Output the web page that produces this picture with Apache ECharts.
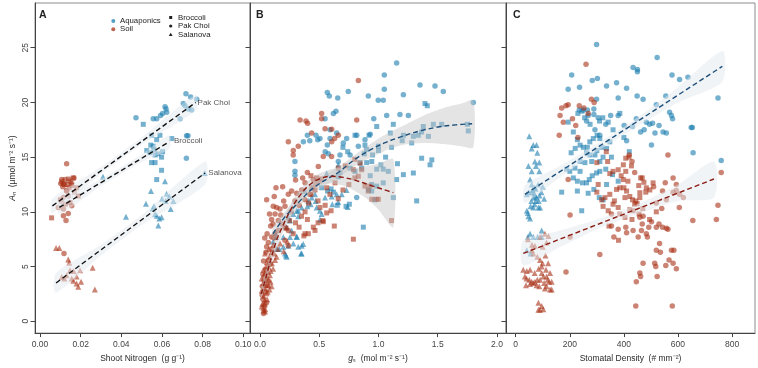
<!DOCTYPE html>
<html><head><meta charset="utf-8">
<script src="https://cdn.jsdelivr.net/npm/echarts@6/dist/echarts.min.js"></script>
<style>html,body{margin:0;padding:0;background:#fff}#c{width:758px;height:368px}</style>
</head><body><div id="c"></div>
<script>
// ---------- tick labels ----------
const ticksA = [0, 0.02, 0.04, 0.06, 0.08, 0.10];
const ticksB = [0, 0.5, 1.0, 1.5, 2.0];
const ticksC = [0, 200, 400, 600, 800];
const ticksY = [0, 5, 10, 15, 20, 25];
const groups = ['Aquaponics', 'Soil'];
const crops = ['Broccoli', 'Pak Choi', 'Salanova'];

// ---------- Panel A: Shoot nitrogen vs An ----------
const A_aqua_pak = [[0.0472,18.6],[0.0718,20.8],[0.0741,20.5],[0.0771,20.3],[0.0705,19.9],[0.0713,19.7],[0.0730,19.4],[0.0746,19.3],[0.0689,18.5],[0.0615,19.6],[0.0623,19.1],[0.0603,19.0],[0.0593,18.8],[0.0574,18.5],[0.0557,18.5],[0.0721,16.95],[0.0728,16.95],[0.0720,14.9],[0.0620,19.4]];
const A_aqua_bro = [[0.0508,18.0],[0.0549,17.0],[0.0590,17.0],[0.0574,16.6],[0.0648,16.7],[0.0525,15.6],[0.0545,16.1],[0.0557,16.0],[0.0566,15.2],[0.0549,14.5],[0.0566,14.5],[0.0598,15.0],[0.0603,15.5],[0.0598,13.8],[0.0574,12.95],[0.0560,15.7],[0.0580,15.3],[0.0540,15.4]];
const A_aqua_sal = [[0.0546,11.9],[0.0615,12.8],[0.0521,10.75],[0.0423,9.55],[0.0561,10.5],[0.0623,11.65],[0.0636,11.4],[0.0656,11.0],[0.0643,10.25],[0.0574,9.65],[0.0587,9.4],[0.0598,9.5],[0.0582,8.75],[0.0554,10.3],[0.0566,9.8],[0.0618,11.0],[0.0310,13.2],[0.0810,13.55],[0.0600,11.2]];
const A_soil_pak = [[0.0131,14.4],[0.0107,12.95],[0.0167,13.1],[0.0102,12.6],[0.0112,12.3],[0.0131,11.9],[0.0156,12.6],[0.0115,12.55],[0.0148,12.8],[0.0123,12.95],[0.0131,11.95],[0.0115,11.3],[0.0139,11.45],[0.0107,10.9],[0.0156,10.55],[0.0115,10.25],[0.0139,9.85],[0.0115,9.65],[0.0128,9.2],[0.0090,10.4],[0.0118,6.2]];
const A_soil_bro = [[0.0134,12.5],[0.0164,13.1],[0.0108,12.75],[0.0144,12.2],[0.0156,12.4],[0.0180,12.2],[0.0188,11.45],[0.0148,10.85],[0.0125,10.7],[0.0057,9.45],[0.0100,11.1],[0.0170,11.8],[0.0120,12.5],[0.0140,13.0]];
const A_soil_sal = [[0.0079,6.7],[0.0095,6.7],[0.0139,5.65],[0.0144,5.35],[0.0197,4.65],[0.0259,4.9],[0.0270,2.9],[0.0107,4.05],[0.0131,4.2],[0.0156,3.9],[0.0164,3.7],[0.0180,3.45],[0.0188,3.15],[0.0202,3.6],[0.0180,4.1],[0.0148,4.65],[0.0165,4.6],[0.0120,3.9]];
const fitA_pak = [[0.0061,10.54],[0.0766,20.0]];
const fitA_bro = [[0.0095,10.4],[0.0636,16.4]];
const fitA_sal = [[0.0079,3.5],[0.0812,13.55]];
const bandA_pak = [[0.0061,9.9,11.2],[0.03,13.45,14.1],[0.05,16.15,16.8],[0.0766,19.3,20.7]];
const bandA_bro = [[0.0095,9.8,11.0],[0.03,12.35,13.0],[0.05,14.55,15.25],[0.0636,15.8,17.0]];
const bandA_sal = [[0.0079,2.6,4.4],[0.03,6.0,7.0],[0.05,8.8,9.7],[0.0812,12.5,14.6]];
const labelsA = [[0.0775,20.0,'Pak Choi'],[0.0659,16.5,'Broccoli'],[0.0828,13.6,'Salanova']];

// ---------- Panel B: gs vs An ----------
const B_aqua_pak = [[1.153,23.6],[0.568,20.9],[0.585,20.6],[0.656,20.4],[0.745,21.0],[0.914,20.6],[0.998,20.2],[1.04,20.2],[1.049,21.2],[1.049,22.5],[1.21,20.7],[1.35,21.6],[1.477,21.5],[1.547,21.0],[1.8,20.0],[0.641,19.2],[0.619,19.0],[0.549,18.5],[1.069,18.8],[1.181,18.9],[1.252,18.8],[0.591,17.5],[0.506,16.7],[0.366,16.4],[0.473,17.0],[0.487,16.6],[0.591,16.7],[0.647,17.2],[0.295,14.6],[0.295,13.7],[0.295,13.35],[0.703,16.3],[0.731,16.7],[0.816,17.0],[0.886,16.6],[0.76,15.2],[0.83,16.0],[0.576,15.3],[0.568,16.1],[0.675,15.2],[0.661,14.6],[0.816,11.3],[0.42,16.5],[0.40,17.0],[0.55,15.5],[0.96,18.5],[0.93,17.1]];
const B_aqua_bro = [[1.392,19.9],[1.412,19.7],[0.802,17.0],[0.985,17.8],[1.125,18.0],[1.21,17.0],[1.294,16.9],[1.336,17.0],[1.364,17.3],[1.378,17.8],[1.463,18.0],[1.533,18.0],[1.758,17.4],[1.421,16.9],[0.886,16.1],[0.9,15.7],[0.943,14.6],[0.985,13.9],[1.04,13.9],[1.083,13.7],[0.844,14.5],[0.858,14.0],[0.9,14.5],[0.76,14.0],[0.802,13.7],[0.943,12.5],[0.985,12.35],[0.943,11.9],[0.97,11.1],[0.914,12.0],[1.04,12.65],[1.125,11.3],[1.153,12.95],[1.21,13.4],[1.294,13.55],[1.364,14.9],[1.435,14.3],[1.45,14.75],[1.322,11.0],[0.872,8.6],[0.675,13.6],[0.661,13.2],[0.726,10.5],[0.754,10.7],[0.652,10.6],[0.62,11.8],[0.57,11.9],[0.52,12.2],[0.60,12.1],[0.70,15.9],[0.74,15.5],[0.88,15.3],[0.95,15.2],[1.0,15.6],[1.06,15.0],[0.93,13.3],[1.11,15.9],[1.2,16.5],[1.28,16.3],[1.1,17.2],[0.92,17.0],[1.0,16.0],[1.02,14.3],[1.16,14.4],[1.75,18.0]];
const B_aqua_sal = [[0.135,7.7],[0.163,6.6],[0.14,6.6],[0.219,6.0],[0.239,6.9],[0.281,7.1],[0.31,7.7],[0.346,6.2],[0.352,6.9],[0.197,7.7],[0.225,8.6],[0.253,9.2],[0.281,9.8],[0.323,10.1],[0.40,10.5],[0.428,10.7],[0.436,11.3],[0.464,11.6],[0.47,11.0],[0.506,10.1],[0.52,9.8],[0.563,13.5],[0.661,14.3],[0.605,11.4],[0.647,11.6],[0.69,11.6],[0.73,12.0],[0.549,11.3],[0.61,10.7],[0.478,10.4],[0.506,9.3],[0.408,11.0],[0.436,12.2],[0.38,11.9],[0.352,10.4],[0.31,10.1],[0.24,9.5],[0.267,8.3],[0.31,7.75],[0.365,7.07],[0.323,6.8],[0.352,6.2],[0.225,5.9],[0.211,6.2],[0.197,6.8],[0.253,7.7],[0.323,9.6],[0.74,10.45],[0.66,10.9],[0.127,8.1],[0.11,7.3]];
const B_soil_pak = [[0.83,22.0],[0.338,18.4],[0.388,18.3],[0.402,18.1],[0.52,19.0],[0.52,18.5],[0.549,17.6],[0.605,17.55],[0.661,17.0],[0.816,18.4],[0.239,16.4],[0.281,15.6],[0.323,16.0],[0.436,17.2],[0.605,16.4],[0.63,16.7],[0.28,15.2],[0.492,14.15],[0.534,15.05],[0.604,15.05],[0.135,12.2],[0.191,12.3],[0.056,11.1],[0.112,10.5],[0.38,12.65],[0.45,12.95],[0.422,11.6],[0.352,12.0],[0.31,11.7],[0.267,11.9],[0.239,11.6],[0.295,11.0],[0.211,10.5],[0.169,10.25],[0.14,10.4],[0.127,9.8],[0.098,9.3],[0.155,9.2],[0.183,8.9],[0.21,8.6],[0.239,8.3],[0.155,8.3],[0.127,8.0],[0.098,7.7],[0.07,7.2],[0.056,6.8],[0.21,7.4],[0.239,6.9],[0.08,9.8],[0.09,8.7],[0.11,8.9],[0.06,8.0],[0.04,7.6],[0.07,5.6],[0.05,6.3],[0.03,5.5],[0.02,3.2],[0.04,2.7],[0.025,2.0],[0.03,0.7],[0.04,1.4],[0.055,1.7],[0.06,3.3],[0.035,3.7],[0.085,5.2],[0.1,6.6],[0.12,7.6],[0.025,4.3],[0.018,2.4],[0.05,4.7],[0.30,12.9],[0.40,13.6],[0.36,13.1],[0.47,12.5],[0.20,11.0],[0.26,10.0],[0.33,10.6],[0.175,9.7],[0.12,11.4],[0.38,11.1],[0.44,12.2]];
const B_soil_bro = [[0.563,12.2],[0.59,11.6],[0.633,12.65],[0.788,13.85],[0.844,14.45],[0.8,13.1],[0.886,12.35],[0.943,11.15],[0.999,11.15],[1.11,9.2],[0.788,7.5],[0.627,8.7],[0.45,8.6],[0.408,8.0],[0.37,7.8],[0.49,9.0],[0.53,9.2],[0.563,9.9],[0.6,10.1],[0.506,10.4],[0.55,10.6],[0.49,11.0],[0.661,14.0],[0.72,14.2],[0.8,14.8],[0.478,13.1],[0.50,12.8],[0.52,13.0],[0.464,12.0],[0.43,11.6],[0.41,10.8],[0.38,10.0],[0.464,8.3],[0.534,9.1],[0.38,8.0],[0.3,9.0],[0.28,8.0],[0.33,8.6],[0.35,9.6],[0.858,13.85],[0.83,13.25],[0.928,12.35],[0.914,11.9],[0.985,11.15],[0.70,12.0],[0.75,12.5],[0.66,11.2],[0.43,13.3],[0.25,9.2],[0.22,8.5],[0.40,9.3]];
const B_soil_sal = [[0.014,1.35],[0.028,1.2],[0.042,0.9],[0.035,1.6],[0.014,2.8],[0.056,2.55],[0.042,3.0],[0.07,3.3],[0.028,3.5],[0.098,3.2],[0.056,3.8],[0.014,3.9],[0.084,4.2],[0.042,4.4],[0.028,4.7],[0.07,5.0],[0.056,5.4],[0.127,5.6],[0.08,5.9],[0.042,6.2],[0.112,7.0],[0.17,7.1],[0.06,4.0],[0.09,4.6],[0.05,3.3],[0.065,2.7],[0.075,3.8],[0.1,5.3],[0.12,6.2],[0.15,6.6],[0.05,5.0],[0.035,4.2],[0.06,2.0],[0.03,2.3],[0.08,2.9],[0.04,1.9],[0.045,1.1],[0.09,3.6],[0.11,4.8],[0.065,4.5],[0.14,5.9],[0.2,6.4],[0.23,7.3],[0.095,6.3],[0.075,6.6],[0.02,1.6],[0.03,1.0]];
const fitB_aqua = [[0.11,8.0],[0.2,9.4],[0.32,10.8],[0.44,12.1],[0.55,12.9],[0.66,13.6],[0.8,14.8],[0.92,15.6],[1.05,16.3],[1.2,16.9],[1.35,17.4],[1.5,17.75],[1.65,17.95],[1.79,18.05]];
const fitB_soil = [[0.01,2.5],[0.05,4.0],[0.09,5.6],[0.14,7.4],[0.2,8.9],[0.27,10.4],[0.33,11.4],[0.4,12.3],[0.49,12.95],[0.6,13.25],[0.7,13.15],[0.8,12.9],[0.94,12.4],[1.04,12.05],[1.125,11.75]];
const bandB_aqua = [[0.11,7.4,8.6],[0.25,9.4,10.5],[0.4,11.3,12.3],[0.55,12.4,13.4],[0.7,13.4,14.4],[0.85,14.5,15.6],[1.0,15.3,16.7],[1.1,15.8,17.3],[1.25,16.2,18.1],[1.4,16.3,18.9],[1.55,16.2,19.5],[1.7,16.0,19.9],[1.8,15.9,20.2]];
const bandB_soil = [[0.01,2.0,3.0],[0.1,5.4,6.5],[0.2,8.3,9.5],[0.3,10.4,11.5],[0.4,11.7,12.8],[0.5,12.4,13.5],[0.6,12.6,13.9],[0.7,12.4,14.0],[0.8,11.9,14.0],[0.9,11.2,14.2],[1.0,10.2,14.4],[1.125,8.6,14.8]];

// ---------- Panel C: stomatal density vs An ----------
const C_aqua_pak = [[299,25.3],[523,24.1],[434,23.2],[450,23.0],[450,22.8],[578,22.5],[606,22.1],[637,22.3],[207,22.5],[283,22.0],[302,22.2],[236,21.4],[336,21.5],[373,21.8],[410,21.3],[194,21.2],[379,20.4],[449,20.6],[471,20.3],[555,20.6],[748,20.4],[760,14.7],[656,15.4],[649,17.7],[653,17.7],[569,19.1],[576,18.8],[530,17.9],[506,18.1],[515,17.2],[545,17.3],[557,17.2],[502,16.1],[462,17.3],[483,18.2],[446,18.5],[432,17.8],[401,17.9],[379,18.8],[351,18.8],[333,18.0],[305,18.6],[289,18.9],[268,18.8],[235,19.3],[250,19.3],[265,19.3],[289,19.4],[299,20.3],[262,18.3],[293,17.5],[311,17.0],[495,18.0],[520,19.8],[580,18.5],[410,16.5],[475,17.5]];
const C_aqua_bro = [[194,18.2],[213,17.3],[228,16.6],[238,16.1],[250,15.9],[265,15.9],[274,16.4],[287,16.7],[301,17.0],[311,16.7],[318,15.9],[336,15.8],[348,16.4],[262,15.4],[274,15.2],[293,15.2],[238,14.6],[256,14.5],[281,14.6],[219,14.0],[238,13.7],[200,13.7],[188,13.9],[213,13.1],[228,12.8],[247,12.65],[262,12.65],[272,12.95],[299,13.55],[311,13.7],[333,13.9],[358,13.4],[379,12.8],[354,15.0],[323,15.0],[268,11.7],[289,12.05],[309,11.3],[323,11.1],[244,10.1],[170,11.8],[228,11.9],[311,14.6],[336,12.5],[342,18.2],[230,19.0],[245,19.2],[255,18.6],[275,18.0],[310,18.3],[322,18.6],[300,15.6],[283,13.3],[205,15.4],[220,15.8],[400,16.8],[420,15.5],[360,17.5],[385,19.0]];
const C_aqua_sal = [[50,16.9],[65,16.1],[77,16.1],[59,15.8],[80,15.4],[71,14.6],[87,14.5],[75,14.2],[47,14.2],[59,13.7],[87,13.7],[53,12.95],[59,12.5],[83,12.5],[41,11.6],[48,11.8],[59,11.8],[65,11.3],[71,11.5],[77,11.3],[75,11.0],[84,10.4],[90,10.4],[65,10.4],[55,10.5],[41,10.1],[47,9.6],[53,9.4],[45,9.9],[70,10.7],[96,8.3],[53,8.0],[65,7.7],[81,7.7],[45,7.7],[96,7.7],[41,6.5],[55,6.2],[62,12.0],[70,12.2],[95,11.8],[105,11.2],[100,12.3],[85,11.0],[58,11.0],[68,11.7],[74,12.1],[88,11.5]];
const C_soil_pak = [[260,23.5],[164,18.8],[170,19.5],[186,19.7],[194,19.8],[176,18.2],[235,19.7],[252,19.5],[280,20.3],[290,20.0],[161,17.0],[194,12.95],[201,9.7],[201,7.7],[311,6.1],[186,4.5],[563,15.2],[582,13.1],[594,12.5],[760,13.6],[748,10.6],[742,9.3],[563,8.4],[520,6.5],[532,7.1],[535,6.3],[576,6.5],[585,6.5],[567,5.6],[582,5.3],[594,4.8],[555,5.1],[523,4.1],[459,4.4],[462,4.1],[446,3.6],[471,5.3],[514,5.3],[518,5.0],[444,1.4],[579,1.4],[487,7.7],[483,8.0],[492,8.6],[520,8.6],[543,8.6],[557,8.5],[530,8.9],[502,9.1],[471,9.6],[459,9.5],[468,8.9],[465,8.3],[453,7.7],[434,8.3],[407,8.6],[410,8.1],[363,7.7],[379,8.4],[354,9.8],[354,8.7],[553,12.65],[582,11.8],[594,11.95],[543,11.9],[606,11.6],[557,11.1],[222,17.9],[230,16.8],[268,19.0],[210,18.5],[420,15.2],[430,14.6],[440,13.6],[605,10.4],[620,11.3],[655,9.2],[540,10.3],[520,10.8],[510,12.3]];
const C_soil_bro = [[360,13.7],[348,13.5],[379,13.85],[407,14.9],[419,15.0],[398,14.3],[407,13.7],[398,12.95],[428,14.2],[462,13.1],[468,13.1],[474,12.7],[483,12.2],[496,12.0],[508,12.65],[373,12.05],[385,12.2],[400,12.2],[410,11.9],[404,11.3],[422,11.4],[432,11.1],[444,11.0],[459,11.3],[459,11.75],[318,11.1],[330,11.3],[348,11.6],[323,10.5],[342,10.1],[360,10.7],[379,10.4],[385,9.8],[404,9.5],[422,10.2],[434,10.1],[440,10.7],[449,10.75],[456,9.8],[481,11.8],[305,12.5],[300,14.5],[340,14.6],[335,15.5],[415,12.8],[390,13.3],[470,10.3],[495,9.3],[430,9.3],[345,8.7],[380,7.4],[300,11.8],[365,11.0],[455,12.4],[520,10.0]];
const C_soil_sal = [[28,4.7],[41,4.6],[53,4.7],[34,4.1],[50,3.8],[59,3.6],[71,3.6],[80,3.8],[90,3.8],[96,4.4],[102,4.1],[114,4.1],[124,3.6],[133,3.6],[114,3.2],[127,2.9],[133,2.9],[108,3.0],[87,3.2],[77,3.3],[38,3.3],[53,3.4],[65,3.5],[96,5.0],[112,4.7],[127,4.4],[80,5.9],[90,5.6],[99,5.3],[59,6.5],[65,6.2],[71,6.9],[90,7.7],[108,8.0],[121,7.8],[114,7.2],[84,1.7],[96,1.4],[102,1.1],[90,1.05],[84,1.05],[45,7.5],[60,7.0],[100,6.8],[110,6.0],[70,4.4],[85,4.8],[120,5.3],[40,3.9],[105,3.5],[118,3.8]];
const fitC_aqua = [[34,11.6],[764,23.3]];
const fitC_soil = [[28,6.2],[733,13.0]];
const bandC_aqua = [[34,10.8,12.4],[150,12.9,14.0],[300,15.5,16.2],[450,17.8,18.6],[600,20.0,21.4],[764,21.9,24.7]];
const bandC_soil = [[28,5.1,7.4],[150,6.6,8.2],[300,8.4,9.3],[450,9.8,10.7],[600,11.0,12.5],[733,11.3,14.6]];

// ---------- styling ----------
const FONT = '"Liberation Sans", Arial, Helvetica, sans-serif';
const BLUE = 'rgba(25,125,175,0.75)';
const RED = 'rgba(168,45,18,0.74)';
const BAND_LIGHT = 'rgba(228,234,240,0.5)';
const BAND_GRAY = 'rgba(195,195,195,0.45)';
const TXT = '#2a2a2a';

const grids = [
  {left: 35, top: 3, width: 215, height: 334},
  {left: 250, top: 3, width: 256, height: 334},
  {left: 506, top: 3, width: 249, height: 334}
].map(g => Object.assign(g, {show: true, borderColor: '#8c8c8c', borderWidth: 1, backgroundColor: 'transparent'}));

function xAx(gi, min, max, ticks, dec, name, rich) {
  return {type: 'value', gridIndex: gi, min: min, max: max, name: name, nameLocation: 'middle', nameGap: 19,
    nameTextStyle: {fontFamily: FONT, fontSize: 8.5, color: TXT, rich: rich || {}},
    axisLine: {show: true, onZero: false, lineStyle: {color: '#444', width: 1}},
    axisTick: {show: true, length: 4, customValues: ticks, lineStyle: {color: '#444', width: 1}},
    axisLabel: {show: true, customValues: ticks, formatter: v => Number(v).toFixed(dec), fontFamily: FONT, fontSize: 8.5, color: '#444', margin: 7},
    splitLine: {show: false}};
}
function yAx(gi, showLabels) {
  return {type: 'value', gridIndex: gi, min: -1.084, max: 29.09,
    name: showLabels ? '{i|A}ₙ  (μmol m⁻² s⁻¹)' : '', nameLocation: 'middle', nameGap: 18,
    nameTextStyle: {fontFamily: FONT, fontSize: 8.5, color: TXT, rich: {i: {fontStyle: 'italic', fontFamily: FONT, fontSize: 8.5, color: TXT}}},
    axisLine: {show: true, onZero: false, lineStyle: {color: '#444', width: 1}},
    axisTick: {show: true, length: 4.5, customValues: ticksY, lineStyle: {color: '#444', width: 1}},
    axisLabel: {show: showLabels, customValues: ticksY, rotate: 90, fontFamily: FONT, fontSize: 8.5, color: '#444', margin: 5},
    splitLine: {show: false}};
}

function scat(gi, data, symbol, color, size) {
  return {type: 'scatter', xAxisIndex: gi, yAxisIndex: gi, data: data, symbol: symbol, symbolSize: size,
    itemStyle: {color: color}, silent: true, z: 2, animation: false};
}
function band(gi, data, color) {
  return {type: 'custom', xAxisIndex: gi, yAxisIndex: gi, z: 3, silent: true, animation: false,
    data: [[data[0][0], data[0][1]]], clip: true,
    renderItem: function (params, api) {
      const up = data.map(d => api.coord([d[0], d[2]]));
      const lo = data.slice().reverse().map(d => api.coord([d[0], d[1]]));
      return {type: 'polygon', shape: {points: up.concat(lo), smooth: 0.25}, style: {fill: color}};
    }};
}
function fit(gi, data, color, smooth) {
  return {type: 'line', xAxisIndex: gi, yAxisIndex: gi, data: data, symbol: 'none', smooth: smooth ? 0.35 : false,
    lineStyle: {color: color, width: 1.4, type: [5, 3]}, z: 4, silent: true, animation: false};
}

const series = [
  // panel A
  scat(0, A_aqua_pak, 'circle', BLUE, 5.5), scat(0, A_aqua_bro, 'rect', BLUE, 5), scat(0, A_aqua_sal, 'triangle', BLUE, 6),
  scat(0, A_soil_pak, 'circle', RED, 5.5), scat(0, A_soil_bro, 'rect', RED, 5), scat(0, A_soil_sal, 'triangle', RED, 6),
  band(0, bandA_pak, BAND_LIGHT), band(0, bandA_bro, BAND_LIGHT), band(0, bandA_sal, BAND_LIGHT),
  fit(0, fitA_pak, '#111'), fit(0, fitA_bro, '#111'), fit(0, fitA_sal, '#111'),
  {type: 'scatter', xAxisIndex: 0, yAxisIndex: 0, data: labelsA, symbolSize: 0, silent: true, z: 5, animation: false,
   label: {show: true, position: 'right', distance: 0, formatter: p => p.data[2], fontFamily: FONT, fontSize: 8, color: TXT}},
  // panel B
  scat(1, B_aqua_pak, 'circle', BLUE, 5.5), scat(1, B_aqua_bro, 'rect', BLUE, 5), scat(1, B_aqua_sal, 'triangle', BLUE, 6),
  scat(1, B_soil_pak, 'circle', RED, 5.5), scat(1, B_soil_bro, 'rect', RED, 5), scat(1, B_soil_sal, 'triangle', RED, 6),
  band(1, bandB_aqua, BAND_GRAY), band(1, bandB_soil, BAND_GRAY),
  fit(1, fitB_aqua, '#1d4f7a', true), fit(1, fitB_soil, '#8a1c12', true),
  // panel C
  scat(2, C_aqua_pak, 'circle', BLUE, 5.5), scat(2, C_aqua_bro, 'rect', BLUE, 5), scat(2, C_aqua_sal, 'triangle', BLUE, 6),
  scat(2, C_soil_pak, 'circle', RED, 5.5), scat(2, C_soil_bro, 'rect', RED, 5), scat(2, C_soil_sal, 'triangle', RED, 6),
  band(2, bandC_aqua, BAND_LIGHT), band(2, bandC_soil, BAND_LIGHT),
  fit(2, fitC_aqua, '#1d4f7a'), fit(2, fitC_soil, '#8a1c12')
];

const txt = (x, y, t, size, bold) => ({type: 'text', x: x, y: y, z: 10, silent: true,
  style: {text: t, font: (bold ? 'bold ' : '') + size + 'px ' + FONT, fill: '#222', align: 'left', verticalAlign: 'middle'}});
const graphic = [
  txt(39, 15.5, 'A', 10.5, true), txt(256, 15.5, 'B', 10.5, true), txt(513, 15.5, 'C', 10.5, true),
  {type: 'circle', shape: {cx: 113.3, cy: 21, r: 2}, style: {fill: BLUE}, silent: true, z: 10},
  txt(120, 21, groups[0], 7.8),
  {type: 'circle', shape: {cx: 113.3, cy: 29.3, r: 2}, style: {fill: RED}, silent: true, z: 10},
  txt(120, 29.3, groups[1], 7.8),
  {type: 'rect', shape: {x: 169.2, y: 16, width: 3, height: 3}, style: {fill: '#222'}, silent: true, z: 10},
  txt(178, 17.5, crops[0], 7.8),
  {type: 'circle', shape: {cx: 170.7, cy: 26, r: 1.6}, style: {fill: '#222'}, silent: true, z: 10},
  txt(178, 26, crops[1], 7.8),
  {type: 'polygon', shape: {points: [[170.7, 32.8], [168.8, 36], [172.6, 36]]}, style: {fill: '#222'}, silent: true, z: 10},
  txt(178, 34.5, crops[2], 7.8)
];

const chart = echarts.init(document.getElementById('c'), null, {renderer: 'canvas'});
chart.setOption({
  animation: false,
  backgroundColor: '#fff',
  grid: grids,
  xAxis: [
    xAx(0, -0.00246, 0.1033, ticksA, 2, 'Shoot Nitrogen  (g g⁻¹)'),
    xAx(1, -0.0844, 2.076, ticksB, 1, '{i|g}ₛ  (mol m⁻² s⁻¹)', {i: {fontStyle: 'italic', fontFamily: FONT, fontSize: 8.5, color: TXT}}),
    xAx(2, -35.9, 884.9, ticksC, 0, 'Stomatal Density  (# mm⁻²)')
  ],
  yAxis: [yAx(0, true), yAx(1, false), yAx(2, false)],
  series: series,
  graphic: graphic
});
</script></body></html>
